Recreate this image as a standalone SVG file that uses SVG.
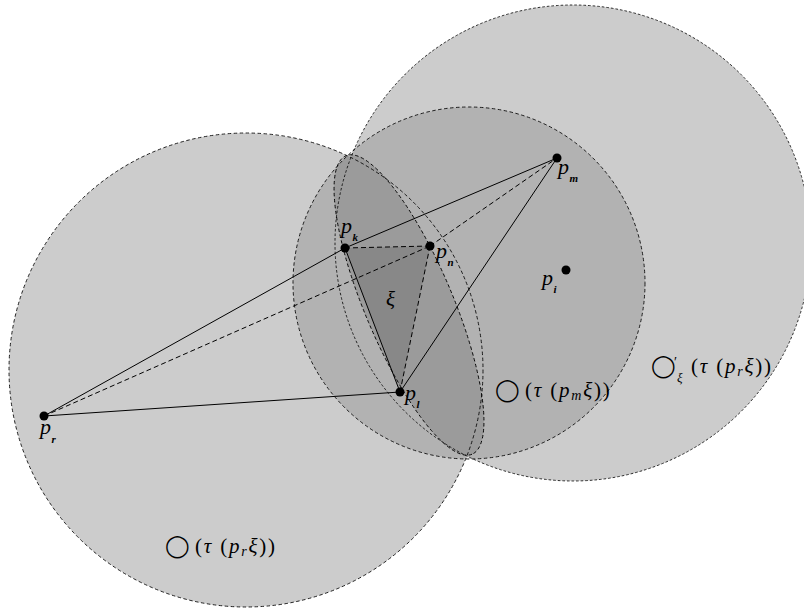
<svg xmlns="http://www.w3.org/2000/svg" width="804" height="612" viewBox="0 0 804 612">
<style>
.fa{fill:#cccccc;stroke:none}
.fm{fill:#000;fill-opacity:0.125;stroke:none}
.fe{fill:#000;fill-opacity:0.13;stroke:none}
.ft{fill:#000;fill-opacity:0.12;stroke:none}
.ob{fill:none;stroke:#000;stroke-width:0.8;stroke-dasharray:2.6 2}
.oc{fill:none;stroke:#000;stroke-width:0.85;stroke-dasharray:3.5 2.5}
.sl{stroke:#000;stroke-width:1;fill:none}
.dl{stroke:#000;stroke-width:1;fill:none;stroke-dasharray:5 3}
.pt{fill:#000}
text{font-family:"Liberation Serif","DejaVu Serif",serif;fill:#000}
.m{font-size:21px;font-style:italic;letter-spacing:1.8px}
.pl{font-size:22px;font-style:italic}
.s{font-size:11px;font-style:italic;font-weight:bold}
.up{font-style:normal}
.ring{font-family:"DejaVu Sans",sans-serif;font-style:normal;letter-spacing:0}
</style>
<g id="sphere-prime"><circle class="fa" cx="573" cy="243" r="238"/></g>
<g id="sphere-pr"><circle class="fa" cx="246" cy="370" r="237"/></g>
<g id="sphere-pm"><circle class="fm" cx="469" cy="283" r="176"/></g>
<g id="circumcircle-xi"><ellipse class="fe" cx="0" cy="0" rx="162" ry="44" transform="translate(409 305) rotate(67.1)"/></g>
<g id="face-xi"><polygon class="ft" points="345,248 430,246 400,392"/><text class="m" x="386" y="306">ξ</text></g>
<g id="outlines">
<circle class="ob" cx="573" cy="243" r="238"/>
<circle class="oc" cx="246" cy="370" r="237"/>
<circle class="oc" cx="469" cy="283" r="176"/>
<ellipse class="oc" cx="0" cy="0" rx="162" ry="44" transform="translate(409 305) rotate(67.1)"/>
</g>
<g id="connectors">
<line class="sl" x1="44" y1="416" x2="345" y2="248"/>
<line class="sl" x1="44" y1="416" x2="400" y2="392"/>
<line class="dl" x1="44" y1="416" x2="430" y2="246"/>
<line class="sl" x1="345" y1="248" x2="557" y2="158"/>
<line class="sl" x1="400" y1="392" x2="557" y2="158"/>
<line class="dl" x1="430" y1="246" x2="557" y2="158"/>
<line class="sl" x1="345" y1="248" x2="400" y2="392"/>
<line class="dl" x1="345" y1="248" x2="430" y2="246"/>
<line class="dl" x1="430" y1="246" x2="400" y2="392"/>
</g>
<g id="p_r"><circle class="pt" cx="44" cy="416" r="4.5"/><text class="pl" x="40" y="434">p<tspan class="s" dx="0.5" dy="9">r</tspan></text></g>
<g id="p_k"><circle class="pt" cx="345" cy="248" r="4.5"/><text class="pl" x="341" y="233">p<tspan class="s" dx="0.5" dy="8">k</tspan></text></g>
<g id="p_n"><circle class="pt" cx="430" cy="246" r="4.5"/><text class="pl" x="436" y="258">p<tspan class="s" dx="0.5" dy="8">n</tspan></text></g>
<g id="p_l"><circle class="pt" cx="400" cy="392" r="4.5"/><text class="pl" x="405" y="400">p<tspan class="s" dx="0.5" dy="8">l</tspan></text></g>
<g id="p_m"><circle class="pt" cx="557" cy="158" r="4.5"/><text class="pl" x="558" y="174">p<tspan class="s" dx="0.5" dy="8">m</tspan></text></g>
<g id="p_i"><circle class="pt" cx="566" cy="270" r="4.5"/><text class="pl" x="542" y="285">p<tspan class="s" dx="0.5" dy="8">i</tspan></text></g>
<g id="label-pr"><text class="m" y="553"><tspan class="ring" x="165" y="553" font-size="22">◯</tspan><tspan class="up" x="195" y="553">(</tspan><tspan>τ</tspan><tspan class="up"> (</tspan><tspan>p</tspan><tspan font-size="14" dy="3">r</tspan><tspan dy="-3">ξ</tspan><tspan class="up">))</tspan></text></g>
<g id="label-pm"><text class="m" y="397"><tspan class="ring" x="495" y="397" font-size="22">◯</tspan><tspan class="up" x="525" y="397">(</tspan><tspan>τ</tspan><tspan class="up"> (</tspan><tspan>p</tspan><tspan font-size="14" dy="3">m</tspan><tspan dy="-3">ξ</tspan><tspan class="up">))</tspan></text></g>
<g id="label-prime"><text class="m" y="373"><tspan class="ring" x="651" y="373" font-size="22">◯</tspan><tspan class="up" x="674" y="367" font-size="14">′</tspan><tspan x="677" y="382" font-size="13">ξ</tspan><tspan class="up" x="691" y="373">(</tspan><tspan>τ</tspan><tspan class="up"> (</tspan><tspan>p</tspan><tspan font-size="14" dy="3">r</tspan><tspan dy="-3">ξ</tspan><tspan class="up">))</tspan></text></g>
</svg>
